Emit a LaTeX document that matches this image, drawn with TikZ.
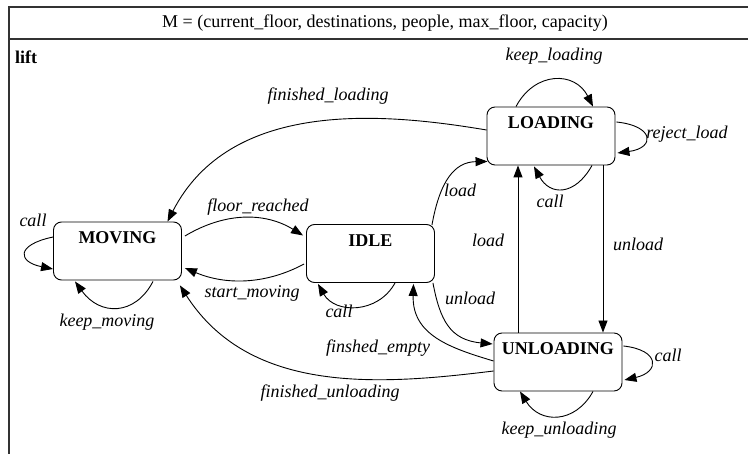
\documentclass[tikz,border=0pt]{standalone}
\usepackage{fontspec}
\setmainfont{Liberation Serif}
\usetikzlibrary{arrows.meta, calc}
\tikzset{
  state/.style={draw, line width=0.9pt, rounded corners=8pt, minimum width=128pt, minimum height=58pt,
    inner sep=0pt, text height=13pt, text depth=27pt, font=\fontsize{18}{20}\selectfont\bfseries},
  edge/.style={line width=0.9pt, -{Triangle[length=12pt,width=9pt]}},
  lbl/.style={inner sep=0pt, text height=12pt, text depth=4pt, font=\fontsize{18}{20}\selectfont\itshape},
}

\begin{document}
\begin{tikzpicture}[x=1pt, y=-1pt]
  \useasboundingbox (0,0) rectangle (748,454);
  % frame
  \draw[line width=1.2pt, black!80] (748,7) -- (9,7) -- (9,454);
  \draw[line width=1.2pt, black!80] (9,39) -- (748,39);
  \node[font=\fontsize{18}{20}\selectfont] (title) at (385,23) {M = (current\_floor, destinations, people, max\_floor, capacity)};
  \node[font=\fontsize{18}{20}\selectfont\bfseries] (lift) at (26,57) {lift};
  % states
  \node[state] (moving) at (117.5,251) {MOVING};
  \node[state] (idle) at (370.5,253.5) {IDLE};
  \node[state] (loading) at (551,136) {LOADING};
  \node[state] (unloading) at (558,362) {UNLOADING};
  % transitions
  \draw[edge] ($(loading.west)+(0,-6)$) .. controls (380,112) and (230,100) .. ($(moving.north)+(50,0)$);
  \draw[edge] ($(moving.east)+(3,-15)$) .. controls (225,212) and (265,212) .. ($(idle.west)+(-3,-18)$);
  \draw[edge] ($(idle.west)+(-2,10.5)$) .. controls (265,285) and (225,285) .. ($(moving.east)+(3,17)$);
  \draw[edge] ($(moving.west)+(0,-14)$) .. controls (15,245) and (18,262) .. ($(moving.west)+(0,18)$);
  \draw[edge] ($(moving.south)+(35.5,1)$) .. controls (135,316) and (100,316) .. ($(moving.south)+(-42.5,1)$);
  \draw[edge] ($(idle.south)+(24.5,0)$) .. controls (378,314) and (335,314) .. ($(idle.south)+(-52.5,1)$);
  \draw[edge] ($(idle.north east)+(-3,1)$) .. controls (440,180) and (455,162) .. ($(loading.south west)+(1,-4)$);
  \draw[edge] ($(unloading.north)+(-40,0)$) -- ($(loading.south)+(-33,0)$);
  \draw[edge] ($(loading.south)+(52,0)$) -- ($(unloading.north)+(45,0)$);
  \draw[edge] ($(idle.south east)+(-2,0)$) .. controls (440,320) and (450,340) .. ($(unloading.west)+(-1,-18)$);
  \draw[edge] ($(unloading.west)+(0,-1)$) .. controls (450,348) and (412,335) .. ($(idle.south)+(43,1)$);
  \draw[edge] ($(unloading.west)+(0,9)$) .. controls (380,385) and (250,395) .. ($(moving.south east)+(-2,5)$);
  \draw[edge] ($(unloading.east)+(1,-16)$) .. controls (660,350) and (660,372) .. ($(unloading.east)+(2,18)$);
  \draw[edge] ($(unloading.south)+(35,0)$) .. controls (575,424) and (540,424) .. ($(unloading.south)+(-38,0)$);
  \draw[edge] ($(loading.north)+(-35,0)$) .. controls (535,71) and (575,71) .. ($(loading.north)+(42,0)$);
  \draw[edge] ($(loading.east)+(1,-14)$) .. controls (655,126) and (655,148) .. ($(loading.east)+(2,17)$);
  \draw[edge] ($(loading.south)+(41,0)$) .. controls (575,196) and (550,196) .. ($(loading.south)+(-17,1)$);
  % transition labels
  \node[lbl] (l-finload) at (328,97) {finished\_loading};
  \node[lbl] (l-keepload) at (554,57) {keep\_loading};
  \node[lbl] (l-reject) at (687,135) {reject\_load};
  \node[lbl] (l-callload) at (550,204) {call};
  \node[lbl] (l-floor) at (258,208) {floor\_reached};
  \node[lbl] (l-start) at (252,294) {start\_moving};
  \node[lbl] (l-callmove) at (33,223) {call};
  \node[lbl] (l-keepmove) at (107,323) {keep\_moving};
  \node[lbl] (l-callidle) at (339,314) {call};
  \node[lbl] (l-loadidle) at (460,193) {load};
  \node[lbl] (l-loadup) at (488,243) {load};
  \node[lbl] (l-unloaddown) at (638,247) {unload};
  \node[lbl] (l-unloadidle) at (470,301) {unload};
  \node[lbl] (l-empty) at (378,349) {finshed\_empty};
  \node[lbl] (l-finunload) at (330,394) {finished\_unloading};
  \node[lbl] (l-callunload) at (668,358) {call};
  \node[lbl] (l-keepunload) at (559,431) {keep\_unloading};
\end{tikzpicture}
\end{document}
